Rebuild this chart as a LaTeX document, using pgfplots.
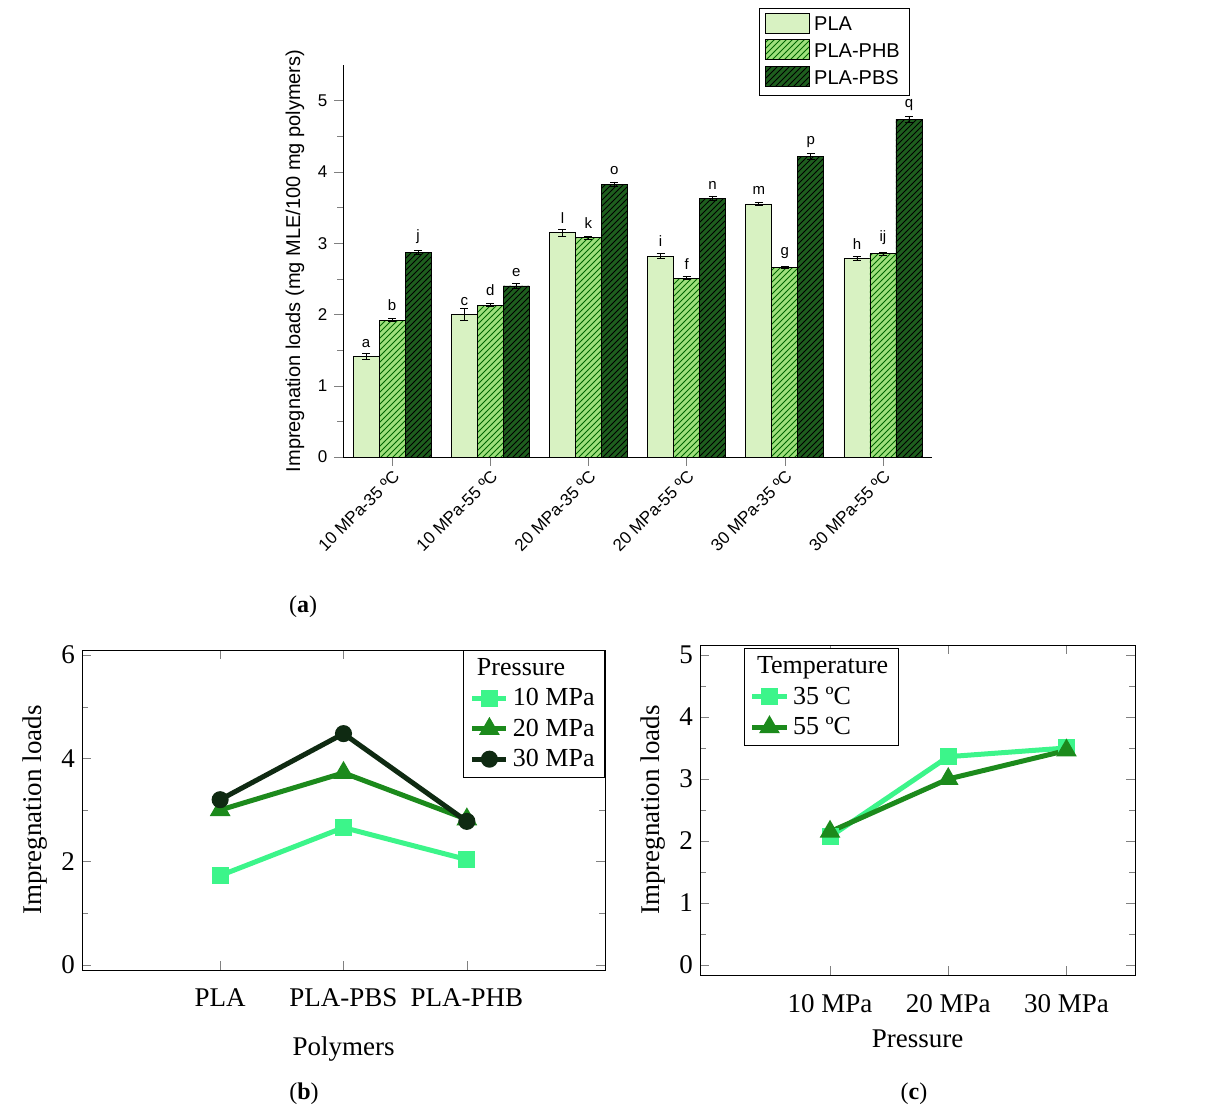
\documentclass[border=0pt]{standalone}
\usepackage{pgfplots}
\pgfplotsset{compat=1.18}
\usepackage{fontspec}
\setmainfont{Liberation Serif}
\newfontfamily\arial{Liberation Sans}
\usetikzlibrary{patterns}
\definecolor{cPLA}{HTML}{D8F2C2}
\definecolor{cPHB}{HTML}{9FE07C}
\definecolor{cPBS}{HTML}{1E5E1E}
\definecolor{g10}{HTML}{3CF58A}
\definecolor{g20}{HTML}{1C8A1C}
\definecolor{g30}{HTML}{0F2A12}
\begin{document}
\begin{tikzpicture}
\path (0,0) rectangle (602.5pt,-557pt);
% ---------- panel a
\begin{axis}[at={(171.5pt,-228.5pt)},anchor=south west,scale only axis,
 width=294.5pt,height=196pt,
 font=\arial\fontsize{8.5}{10}\selectfont,
 /pgf/number format/assume math mode=true,
 ybar=0pt,bar width=13pt,
 xmin=-0.5,xmax=5.5,ymin=0,ymax=5.5,
 axis lines*=left,
 xtick={0,...,5},
 xticklabels={10 MPa-35 ºC,10 MPa-55 ºC,20 MPa-35 ºC,20 MPa-55 ºC,30 MPa-35 ºC,30 MPa-55 ºC},
 xticklabel style={rotate=45,anchor=north east,inner sep=1pt},
 ytick={0,1,2,3,4,5},minor y tick num=1,
 tick align=outside,tick pos=left,
 ylabel={Impregnation loads (mg MLE/100 mg polymers)},
 ylabel style={font=\arial\fontsize{10}{12}\selectfont},
 nodes near coords,point meta=explicit symbolic,
 nodes near coords style={font=\arial\fontsize{7.5}{9}\selectfont,yshift=1pt},
 error bars/y dir=both,error bars/y explicit,
 error bars/error bar style={black,thin},
 area legend,
 legend image code/.code={\draw[#1] (0pt,-4pt) rectangle (22pt,6pt);},
 legend style={at={(0.963,1.145)},anchor=north east,font=\arial\fontsize{10}{12}\selectfont,draw=black,row sep=1pt},
 legend cell align=left]
\addplot[draw=black,fill=cPLA] coordinates {
 (0,1.41) +- (0,0.04) [a]
 (1,2.00) +- (0,0.09) [c]
 (2,3.15) +- (0,0.05) [l]
 (3,2.82) +- (0,0.04) [i]
 (4,3.55) +- (0,0.02) [m]
 (5,2.79) +- (0,0.03) [h]};
\addplot[draw=black,fill=cPHB,postaction={pattern=north east lines,pattern color=black!60!green}] coordinates {
 (0,1.92) +- (0,0.02) [b]
 (1,2.13) +- (0,0.02) [d]
 (2,3.08) +- (0,0.02) [k]
 (3,2.51) +- (0,0.02) [f]
 (4,2.66) +- (0,0.02) [g]
 (5,2.85) +- (0,0.02) [ij]};
\addplot[draw=black,fill=cPBS,postaction={pattern=north east lines,pattern color=black}] coordinates {
 (0,2.87) +- (0,0.03) [j]
 (1,2.40) +- (0,0.03) [e]
 (2,3.83) +- (0,0.03) [o]
 (3,3.63) +- (0,0.03) [n]
 (4,4.22) +- (0,0.04) [p]
 (5,4.74) +- (0,0.04) [q]};
\legend{PLA,PLA-PHB,PLA-PBS}
\end{axis}
\node at (151.5pt,-303.5pt) {\fontsize{12}{14}\selectfont(\textbf{a})};
% ---------- panel b
\begin{axis}[at={(41pt,-485pt)},anchor=south west,scale only axis,
 width=261.5pt,height=160pt,
 font=\fontsize{13.5}{15}\selectfont,
 /pgf/number format/assume math mode=true,
 xmin=-0.12,xmax=4.12,ymin=-0.1,ymax=6.1,
 xtick={1,2,3},xticklabels={PLA,PLA-PBS,PLA-PHB},
 xticklabel style={yshift=-6pt},
 xlabel style={yshift=-8pt},
 ytick={0,2,4,6},minor y tick num=1,
 tick align=inside,
 xlabel={Polymers},ylabel={Impregnation loads},
 legend style={at={(1,1)},anchor=north east,draw=black,font=\fontsize{13}{15}\selectfont,row sep=1pt},
 legend cell align=left]
\addlegendimage{empty legend}\addlegendentry{\hspace{-18pt}Pressure}
\addplot[g10,line width=2.5pt,mark=square*,mark size=3pt] coordinates {(1,1.73)(2,2.66)(3,2.04)};
\addlegendentry{10 MPa}
\addplot[g20,line width=2.5pt,mark=triangle*,mark size=3.5pt] coordinates {(1,3.0)(2,3.72)(3,2.82)};
\addlegendentry{20 MPa}
\addplot[g30,line width=2.5pt,mark=*,mark size=3pt] coordinates {(1,3.2)(2,4.48)(3,2.78)};
\addlegendentry{30 MPa}
\end{axis}
\node at (152pt,-547pt) {\fontsize{12}{14}\selectfont(\textbf{b})};
% ---------- panel c
\begin{axis}[at={(350pt,-487.5pt)},anchor=south west,scale only axis,
 width=217.5pt,height=165pt,
 font=\fontsize{13.5}{15}\selectfont,
 /pgf/number format/assume math mode=true,
 xmin=-0.1,xmax=3.58,ymin=-0.16,ymax=5.16,
 xtick={1,2,3},xticklabels={10 MPa,20 MPa,30 MPa},
 xticklabel style={yshift=-6pt},
 xlabel style={yshift=-2pt},
 ytick={0,1,2,3,4,5},minor y tick num=1,
 tick align=inside,
 xlabel={Pressure},ylabel={Impregnation loads},
 legend style={at={(0.1,0.99)},anchor=north west,draw=black,font=\fontsize{13}{15}\selectfont,row sep=1pt},
 legend cell align=left]
\addlegendimage{empty legend}\addlegendentry{\hspace{-18pt}Temperature}
\addplot[g10,line width=2.5pt,mark=square*,mark size=3pt] coordinates {(1,2.07)(2,3.36)(3,3.5)};
\addlegendentry{35 ºC}
\addplot[g20,line width=2.5pt,mark=triangle*,mark size=3.5pt] coordinates {(1,2.15)(2,3.0)(3,3.46)};
\addlegendentry{55 ºC}
\end{axis}
\node at (457pt,-547pt) {\fontsize{12}{14}\selectfont(\textbf{c})};
\end{tikzpicture}
\end{document}
